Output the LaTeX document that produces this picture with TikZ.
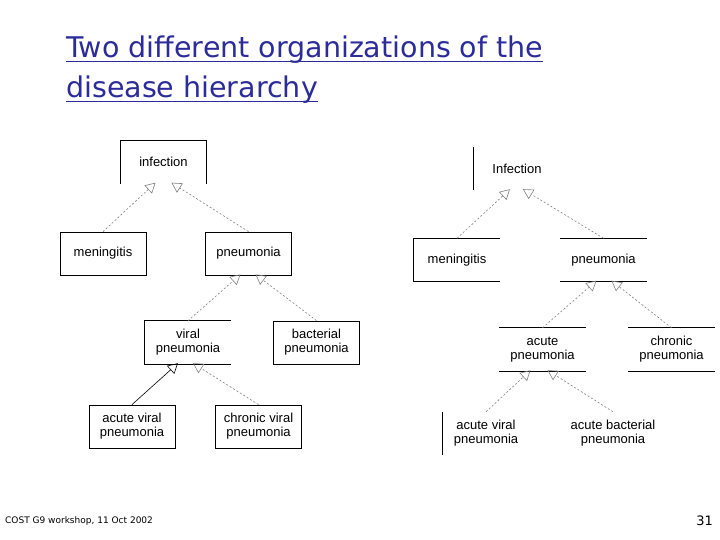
\documentclass[tikz,border=0pt]{standalone}
\usepackage{fontspec}
\setmainfont{Liberation Sans}
\newfontfamily\titlefont{DejaVu Sans}
\usetikzlibrary{arrows.meta}
\definecolor{linkblue}{HTML}{2B2B9A}
\tikzset{
  cls/.style={minimum width=86pt,minimum height=43pt,inner sep=0pt,align=center,font=\fontsize{13}{14}\selectfont},
  boxed/.style={cls,draw,line width=0.8pt},
  edge/.style={draw=gray,dash pattern=on 2pt off 2pt,line width=0.6pt,-{Triangle[open,width=11pt,length=10pt]}},
  sedge/.style={edge,solid,draw=black},
  side/.style={line width=0.8pt},
  ttl/.style={anchor=west,text=linkblue,font=\titlefont\fontsize{28.5}{32}\selectfont,inner sep=0pt},
  uline/.style={draw=linkblue,line width=1.2pt}
}
\begin{document}
\begin{tikzpicture}[x=1pt,y=-1pt]
\useasboundingbox (0,0) rectangle (720,540);
% title
\node[ttl] (t1) at (66,50) {Two different organizations of the};
\node[ttl] (t2) at (66,90) {disease hierarchy};
\draw[uline] ([yshift=-3.5pt]t1.base west) -- ([yshift=-3.5pt]t1.base east);
\draw[uline] ([yshift=-3.5pt]t2.base west) -- ([yshift=-3.5pt]t2.base east);
\node[anchor=west,font=\titlefont\fontsize{9}{10}\selectfont,inner sep=0pt] (foot) at (5,521) {COST G9 workshop, 11 Oct 2002};
\node[anchor=east,font=\titlefont\fontsize{13}{14}\selectfont,inner sep=0pt] (pg) at (713,521) {31};
% left tree
\node[cls] (Linf) at (163.5,162) {infection};
\draw[side] (Linf.south west) -- (Linf.north west) -- (Linf.north east) -- (Linf.south east);
\node[boxed] (Lmen) at (103,253.5) {meningitis};
\node[boxed] (Lpn) at (248.5,253.5) {pneumonia};
\node[cls] (Lvir) at (188,342.5) {viral\\pneumonia};
\draw[side] (Lvir.north east) -- (Lvir.north west) -- (Lvir.south west) -- (Lvir.south east);
\node[boxed] (Lbac) at (316.5,342.5) {bacterial\\pneumonia};
\node[boxed] (Lav) at (132,426.5) {acute viral\\pneumonia};
\node[boxed] (Lcv) at (258.5,426.5) {chronic viral\\pneumonia};
\draw[edge] (Lmen.north) -- ([xshift=-8pt,yshift=1pt]Linf.south);
\draw[edge] (Lpn.north) -- ([xshift=8pt,yshift=1pt]Linf.south);
\draw[edge] (Lvir.north) -- ([xshift=-8pt,yshift=1pt]Lpn.south);
\draw[edge] (Lbac.north) -- ([xshift=7pt,yshift=1pt]Lpn.south);
\draw[sedge] (Lav.north) -- ([xshift=-10pt,yshift=1pt]Lvir.south);
\draw[edge] (Lcv.north) -- ([xshift=5pt,yshift=1pt]Lvir.south);
% right tree
\node[cls] (Rinf) at (517,168.5) {Infection};
\draw[side] (Rinf.north west) -- (Rinf.south west);
\node[cls] (Rmen) at (457,260) {meningitis};
\draw[side] (Rmen.north east) -- (Rmen.north west) -- (Rmen.south west) -- (Rmen.south east);
\node[cls] (Rpn) at (603.5,260) {pneumonia};
\draw[side] (Rpn.north west) -- (Rpn.north east) (Rpn.south west) -- (Rpn.south east);
\node[cls] (Rac) at (542.5,349.5) {acute\\pneumonia};
\draw[side] (Rac.north west) -- (Rac.north east) (Rac.south west) -- (Rac.south east);
\node[cls] (Rch) at (671.5,349.5) {chronic\\pneumonia};
\draw[side] (Rch.north west) -- (Rch.north east) (Rch.south west) -- (Rch.south east);
\node[cls] (Rav) at (486,433.5) {acute viral\\pneumonia};
\draw[side] (Rav.north west) -- (Rav.south west);
\node[cls] (Rab) at (613,433.5) {acute bacterial\\pneumonia};
\draw[edge] (Rmen.north) -- ([xshift=-7pt,yshift=1pt]Rinf.south);
\draw[edge] (Rpn.north) -- ([xshift=6pt,yshift=1pt]Rinf.south);
\draw[edge] (Rac.north) -- ([xshift=-7pt,yshift=1pt]Rpn.south);
\draw[edge] (Rch.north) -- ([xshift=8pt,yshift=1pt]Rpn.south);
\draw[edge] (Rav.north) -- ([xshift=-12pt,yshift=1pt]Rac.south);
\draw[edge] (Rab.north) -- ([xshift=5pt,yshift=1pt]Rac.south);
\end{tikzpicture}
\end{document}
